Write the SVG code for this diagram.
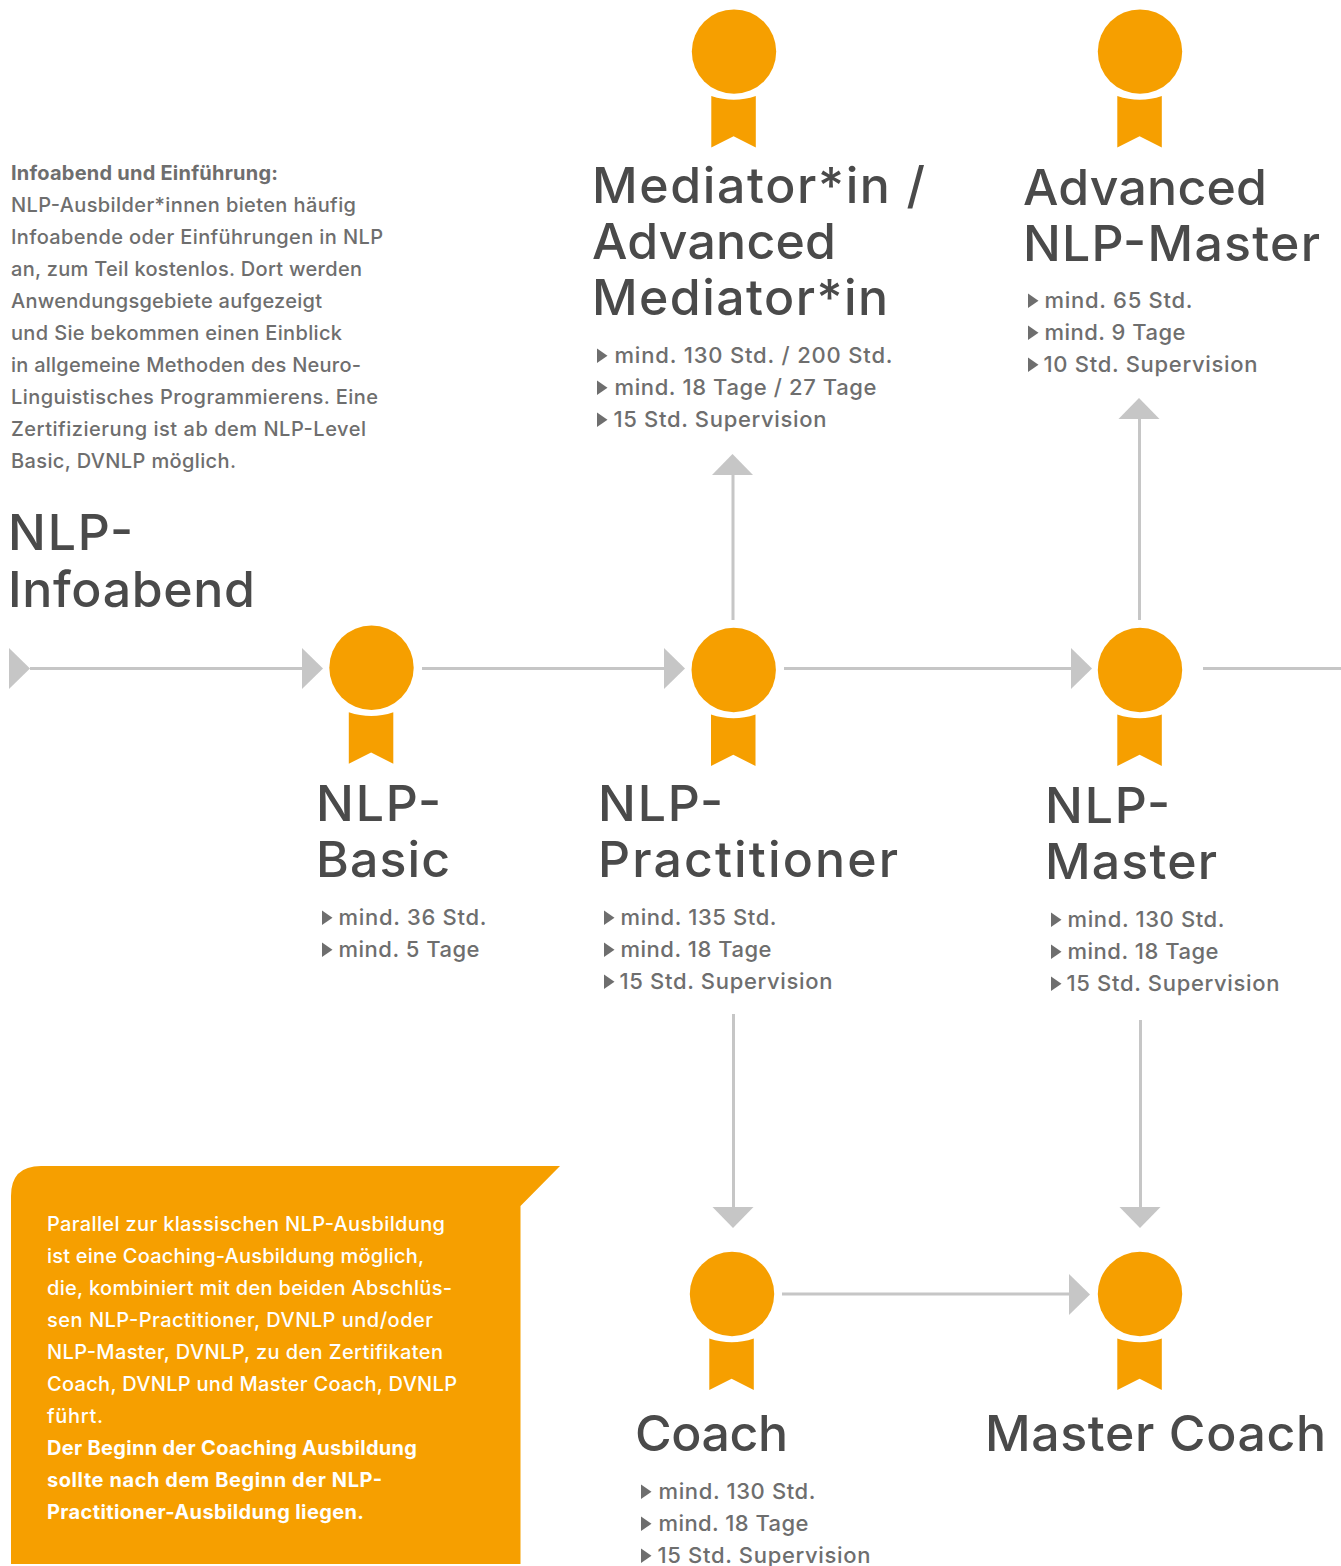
<svg xmlns="http://www.w3.org/2000/svg" xmlns:xlink="http://www.w3.org/1999/xlink" width="1341" height="1566" viewBox="0 0 1341 1566">
<style>
text{font-family:"Inter","Noto Sans","Liberation Sans",sans-serif}
.t{font-size:50px;fill:#4a4a4a;font-weight:500}
.l{font-size:22px;fill:#6e6e6e;font-weight:500}
.b{font-size:20px;fill:#6e6e6e;font-weight:500}
.w{font-size:20px;fill:#fff;font-weight:500}
.b.bold,.w.bold{font-weight:700}
.o{fill:#f69f00}
.c{fill:none;stroke:#c6c6c6;stroke-width:3}
.h{fill:#c6c6c6}
.m{fill:#6e6e6e}
</style>
<defs>
<g id="medal"><circle class="o" cx="0" cy="0" r="42.2"/><path class="o" d="M-22.7 44.5Q0 52 21.8 44.5V96L-.4 84.7-22.7 96Z"/></g>
<path id="bullet" class="m" d="M0-14.5L10.5-7.2 0 0Z"/>
<path id="ar" class="h" d="M0-20.5L21 0 0 20.5Z"/>
<path id="au" class="h" d="M-20.5 21L0 0 20.5 21Z"/>
<path id="ad" class="h" d="M-20.5 0L0 21 20.5 0Z"/>
</defs>
<g id="connectors">
<path class="c" d="M30 668.5H302M422 668.5H665M784 668.5H1071M1203 668.5H1341M733 620V475M1139.5 620V419M733.5 1014V1207M1140.5 1020V1207M782 1294H1069"/>
<use href="#ar" x="9" y="668.5"/>
<use href="#ar" x="302" y="668.5"/>
<use href="#ar" x="664" y="668.5"/>
<use href="#ar" x="1071" y="668.5"/>
<use href="#ar" x="1069" y="1294.5"/>
<use href="#au" x="732.5" y="454"/>
<use href="#au" x="1139" y="398"/>
<use href="#ad" x="733" y="1207"/>
<use href="#ad" x="1140" y="1207"/>
</g>
<g id="info-text">
<text class="b bold" x="11" y="180" textLength="267">Infoabend und Einführung:</text>
<text class="b" x="11" y="212" textLength="345">NLP-Ausbilder*innen bieten häufig</text>
<text class="b" x="11" y="244" textLength="372">Infoabende oder Einführungen in NLP</text>
<text class="b" x="11" y="276" textLength="351">an, zum Teil kostenlos. Dort werden</text>
<text class="b" x="11" y="308" textLength="311">Anwendungsgebiete aufgezeigt</text>
<text class="b" x="11" y="340" textLength="331">und Sie bekommen einen Einblick</text>
<text class="b" x="11" y="372" textLength="350">in allgemeine Methoden des Neuro-</text>
<text class="b" x="11" y="404" textLength="367">Linguistisches Programmierens. Eine</text>
<text class="b" x="11" y="436" textLength="355">Zertifizierung ist ab dem NLP-Level</text>
<text class="b" x="11" y="468" textLength="225">Basic, DVNLP möglich.</text>
</g>
<g id="node-infoabend">
<text class="t" x="8" y="550" textLength="125">NLP-</text>
<text class="t" x="8" y="607" textLength="247">Infoabend</text>
</g>
<g id="node-basic">
<use href="#medal" x="371.5" y="667.7"/>
<text class="t" x="316" y="821" textLength="125">NLP-</text>
<text class="t" x="316" y="877" textLength="134">Basic</text>
<use href="#bullet" x="322" y="925"/><text class="l" x="338.5" y="925" textLength="148">mind. 36 Std.</text>
<use href="#bullet" x="322" y="957"/><text class="l" x="338.5" y="957" textLength="141">mind. 5 Tage</text>
</g>
<g id="node-practitioner">
<use href="#medal" x="733.7" y="670"/>
<text class="t" x="598" y="821" textLength="125">NLP-</text>
<text class="t" x="598" y="877" textLength="300">Practitioner</text>
<use href="#bullet" x="604" y="925"/><text class="l" x="620.5" y="925" textLength="156">mind. 135 Std.</text>
<use href="#bullet" x="604" y="957"/><text class="l" x="620.5" y="957" textLength="151">mind. 18 Tage</text>
<use href="#bullet" x="604" y="989"/><text class="l" x="619.5" y="989" textLength="213">15 Std. Supervision</text>
</g>
<g id="node-master">
<use href="#medal" x="1140" y="670"/>
<text class="t" x="1045" y="823" textLength="125">NLP-</text>
<text class="t" x="1045" y="879" textLength="172">Master</text>
<use href="#bullet" x="1051" y="927"/><text class="l" x="1067.5" y="927" textLength="157">mind. 130 Std.</text>
<use href="#bullet" x="1051" y="959"/><text class="l" x="1067.5" y="959" textLength="151">mind. 18 Tage</text>
<use href="#bullet" x="1051" y="991"/><text class="l" x="1066.5" y="991" textLength="213">15 Std. Supervision</text>
</g>
<g id="node-mediator">
<use href="#medal" x="734" y="51.6"/>
<text class="t" x="592" y="203" textLength="333">Mediator*in /</text>
<text class="t" x="592" y="259" textLength="244">Advanced</text>
<text class="t" x="592" y="315" textLength="296">Mediator*in</text>
<use href="#bullet" x="597" y="363"/><text class="l" x="614.5" y="363" textLength="278">mind. 130 Std. / 200 Std.</text>
<use href="#bullet" x="597" y="395"/><text class="l" x="614.5" y="395" textLength="262">mind. 18 Tage / 27 Tage</text>
<use href="#bullet" x="597" y="427"/><text class="l" x="613.5" y="427" textLength="213">15 Std. Supervision</text>
</g>
<g id="node-advanced-master">
<use href="#medal" x="1140" y="51.6"/>
<text class="t" x="1023" y="205" textLength="244">Advanced</text>
<text class="t" x="1023" y="261" textLength="297">NLP-Master</text>
<use href="#bullet" x="1028" y="308"/><text class="l" x="1044.5" y="308" textLength="148">mind. 65 Std.</text>
<use href="#bullet" x="1028" y="340"/><text class="l" x="1044.5" y="340" textLength="141">mind. 9 Tage</text>
<use href="#bullet" x="1028" y="372"/><text class="l" x="1043.5" y="372" textLength="214">10 Std. Supervision</text>
</g>
<g id="node-coach">
<use href="#medal" x="732" y="1294"/>
<text class="t" x="635" y="1451" textLength="153">Coach</text>
<use href="#bullet" x="641" y="1499"/><text class="l" x="658.5" y="1499" textLength="157">mind. 130 Std.</text>
<use href="#bullet" x="641" y="1531"/><text class="l" x="658.5" y="1531" textLength="150">mind. 18 Tage</text>
<use href="#bullet" x="641" y="1563"/><text class="l" x="657.5" y="1563" textLength="213">15 Std. Supervision</text>
</g>
<g id="node-master-coach">
<use href="#medal" x="1140" y="1294"/>
<text class="t" x="985" y="1451" textLength="341">Master Coach</text>
</g>
<g id="note">
<path class="o" d="M11 1564V1196Q11 1166 41 1166H560L520.500 1206V1564Z"/>
<text class="w" x="47" y="1231" textLength="398">Parallel zur klassischen NLP-Ausbildung</text>
<text class="w" x="47" y="1263" textLength="377">ist eine Coaching-Ausbildung möglich,</text>
<text class="w" x="47" y="1295" textLength="405">die, kombiniert mit den beiden Abschlüs-</text>
<text class="w" x="47" y="1327" textLength="386">sen NLP-Practitioner, DVNLP und/oder</text>
<text class="w" x="47" y="1359" textLength="396">NLP-Master, DVNLP, zu den Zertifikaten</text>
<text class="w" x="47" y="1391" textLength="410">Coach, DVNLP und Master Coach, DVNLP</text>
<text class="w" x="47" y="1423" textLength="56">führt.</text>
<text class="w bold" x="47" y="1455" textLength="370">Der Beginn der Coaching Ausbildung</text>
<text class="w bold" x="47" y="1487" textLength="335">sollte nach dem Beginn der NLP-</text>
<text class="w bold" x="47" y="1519" textLength="317">Practitioner-Ausbildung liegen.</text>
</g>
</svg>
